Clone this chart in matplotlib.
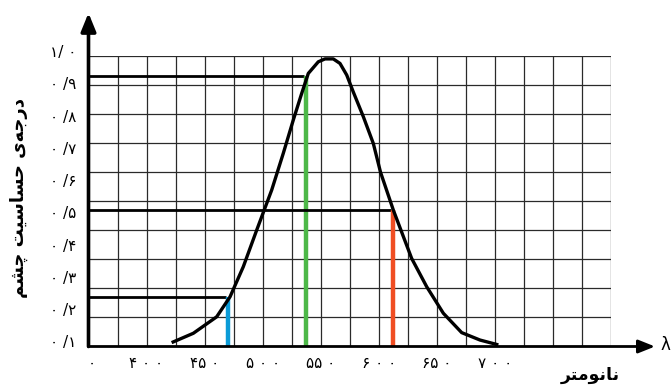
import numpy as np
import matplotlib
matplotlib.use("Agg")
import matplotlib.pyplot as plt
from matplotlib.transforms import ScaledTranslation

# ---- data ----
curve_nm = [421.6, 440.3, 460.4, 471.9, 483.3, 494.9, 507.8, 517.8, 526.4, 533.6,
            539.3, 547.9, 553.7, 560.8, 566.6, 572.4, 578.0, 586.7, 595.3, 601.5,
            612.5, 628.3, 641.3, 655.6, 671.4, 687.2, 703.0]
curve_val = [0.112, 0.141, 0.192, 0.254, 0.347, 0.461, 0.585, 0.699, 0.802, 0.884,
             0.946, 0.982, 0.991, 0.991, 0.977, 0.941, 0.889, 0.812, 0.729, 0.640,
             0.523, 0.373, 0.285, 0.203, 0.143, 0.120, 0.105]

marker_nm = [470, 537, 612]
marker_val = [0.252, 0.939, 0.523]
marker_colors = ["#0b9bd7", "#4db848", "#f04e23"]

xtick_vals = [350, 400, 450, 500, 550, 600, 650, 700]
xtick_labels = ["۰", "۴ ۰ ۰", "۴۵ ۰", "۵ ۰ ۰", "۵۵ ۰", "۶ ۰ ۰", "۶۵ ۰", "۷ ۰ ۰"]
ytick_vals = [0.1, 0.2, 0.3, 0.4, 0.5, 0.6, 0.7, 0.8, 0.9, 1.0]
ytick_labels = ["۰ /۱", "۰ /۲", "۰ /۳", "۰ /۴", "۰ /۵", "۰ /۶", "۰ /۷", "۰ /۸", "۰ /۹", "۱/ ۰"]

# Persian labels (presentation forms, visual order)
ylabel_text = "\uFEE2\uFEB8\uFB7C \uFE96\uFEF4\uFEB3\uFE8E\uFEB4\uFEA3 \uFEEF\uFEEA\uFE9F\uFEAD\uFEA9"  # درجه‌ی حساسیت چشم
xlabel_text = "\uFEAE\uFE98\uFEE3\uFEEE\uFEE7\uFE8E\uFEE7"  # نانومتر

W, H = 671, 387
fig = plt.figure(figsize=(W / 100, H / 100), dpi=100)
x0, x1, y_top, y_bot = 88.5, 611, 56, 346.5
ax = fig.add_axes([x0 / W, (H - y_bot) / H, (x1 - x0) / W, (y_bot - y_top) / H])
ax.set_xlim(350, 800)
ax.set_ylim(0.1, 1.0)
for s in ax.spines.values():
    s.set_visible(False)

# grid
grid_c = "#2a2a2a"
for gx in np.arange(375, 801, 25):
    ax.axvline(gx, color=grid_c, lw=0.9, zorder=1)
for gy in np.linspace(0.1, 1.0, 11)[1:]:
    ax.axhline(gy, color=grid_c, lw=0.9, zorder=1)

# curve
ax.plot(curve_nm, curve_val, color="black", lw=2.4, zorder=4, solid_joinstyle="round",
        solid_capstyle="butt")

# markers
for nm, v, c in zip(marker_nm, marker_val, marker_colors):
    ax.plot([350, nm - 1.5], [v, v], color="black", lw=2.0, zorder=3, solid_capstyle="butt")
    ax.plot([nm, nm], [0.1, v], color=c, lw=3.2, zorder=3, solid_capstyle="butt")

# ticks
ax.set_xticks(xtick_vals)
ax.set_xticklabels(xtick_labels, fontsize=11)
ax.set_yticks(ytick_vals)
ax.set_yticklabels(ytick_labels, fontsize=11)
ax.tick_params(length=0)
ax.tick_params(axis="x", pad=7)
ax.tick_params(axis="y", pad=9)
for lab in ax.get_yticklabels():
    lab.set_transform(lab.get_transform() + ScaledTranslation(0, 5 / 100, fig.dpi_scale_trans))
xl = ax.get_xticklabels()
xl[0].set_transform(xl[0].get_transform() + ScaledTranslation(3 / 100, 0, fig.dpi_scale_trans))

# axes with arrows
tip_y = (y_bot - 13) / (y_bot - y_top)
tip_x = (655 - x0) / (x1 - x0)
ax.annotate("", xy=(0, tip_y), xytext=(0, 0), xycoords="axes fraction",
            arrowprops=dict(arrowstyle="-|>,head_length=1.1,head_width=0.45", lw=2.6,
                            color="black", shrinkA=0, shrinkB=0), annotation_clip=False, zorder=6)
ax.annotate("", xy=(tip_x, 0), xytext=(0, 0), xycoords="axes fraction",
            arrowprops=dict(arrowstyle="-|>,head_length=1.0,head_width=0.4", lw=2.0,
                            color="black", shrinkA=0, shrinkB=0), annotation_clip=False, zorder=6)

fig.text(665 / W, 1 - 345 / H, "λ", fontsize=12, ha="center", va="center")
fig.text(19 / W, 1 - 198 / H, ylabel_text, rotation=90, fontsize=13, fontweight="bold",
         ha="center", va="center", family=["DejaVu Sans"])
fig.text(590 / W, 1 - 375 / H, xlabel_text, fontsize=12.5, fontweight="bold",
         ha="center", va="center", family=["DejaVu Sans"])

fig.savefig("out.png", dpi=100)
